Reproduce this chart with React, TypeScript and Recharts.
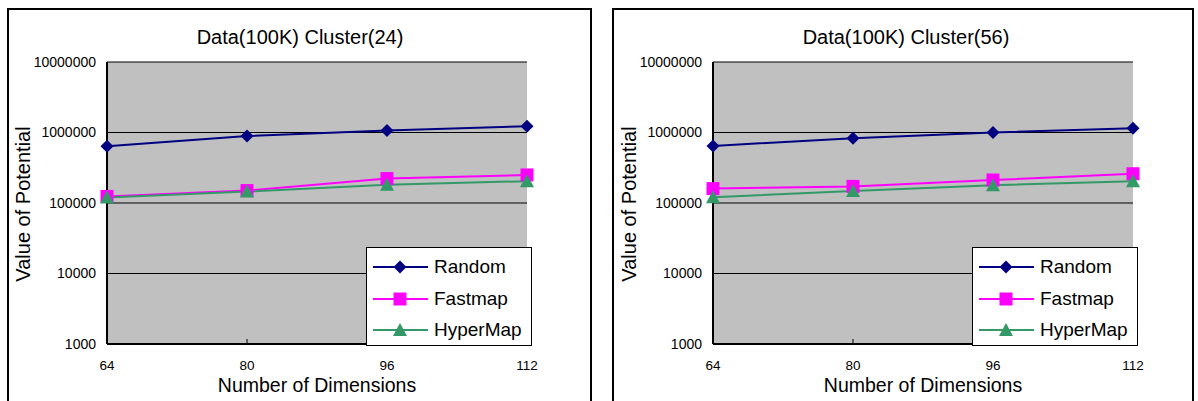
import React from 'react';
import { LineChart, Line, XAxis, YAxis, CartesianGrid, Legend } from 'recharts';

const dimensions = [64, 80, 96, 112];
const yTicks = [1000, 10000, 100000, 1000000, 10000000];

const random24 = [640000, 890000, 1070000, 1230000];
const fastmap24 = [124000, 150000, 222000, 250000];
const hypermap24 = [120000, 145000, 182000, 204000];

const random56 = [645000, 830000, 1000000, 1150000];
const fastmap56 = [160000, 172000, 212000, 260000];
const hypermap56 = [121000, 148000, 179000, 204000];

const seriesNames = ['Random', 'Fastmap', 'HyperMap'];
const seriesColors = ['#000080', '#FF00FF', '#339966'];
const seriesMarkers = ['diamond', 'square', 'triangle'];

const titles = ['Data(100K) Cluster(24)', 'Data(100K) Cluster(56)'];
const xTitle = 'Number of Dimensions';
const yTitle = 'Value of Potential';

const FONT = '"Liberation Sans", Arial, sans-serif';

function buildData(r: number[], f: number[], h: number[]) {
  return dimensions.map((d, i) => ({ dim: d, Random: r[i], Fastmap: f[i], HyperMap: h[i] }));
}

const data24 = buildData(random24, fastmap24, hypermap24);
const data56 = buildData(random56, fastmap56, hypermap56);

function Marker({ kind, cx, cy, color }: { kind: string; cx: number; cy: number; color: string }) {
  if (cx == null || cy == null || isNaN(cx) || isNaN(cy)) return null;
  if (kind === 'diamond') {
    const s = 6.5;
    return <polygon points={`${cx},${cy - s} ${cx + s},${cy} ${cx},${cy + s} ${cx - s},${cy}`} fill={color} />;
  }
  if (kind === 'square') {
    const s = 6.5;
    return <rect x={cx - s} y={cy - s} width={2 * s} height={2 * s} fill={color} />;
  }
  return <polygon points={`${cx},${cy - 7} ${cx + 7},${cy + 6} ${cx - 7},${cy + 6}`} fill={color} />;
}

const makeDot = (kind: string, color: string) => (props: any) => (
  <Marker key={`${kind}-${props.index}`} kind={kind} cx={props.cx} cy={props.cy} color={color} />
);

const legendRows = [20, 52, 83];

const renderLegend = () => (
  <div
    style={{
      position: 'relative',
      width: 166,
      height: 99,
      border: '1px solid #000',
      background: '#fff',
      boxSizing: 'border-box',
      fontFamily: FONT,
    }}
  >
    {seriesNames.map((name, i) => (
      <div
        key={name}
        style={{
          position: 'absolute',
          left: 0,
          top: legendRows[i] - 13,
          height: 24,
          display: 'flex',
          alignItems: 'center',
        }}
      >
        <svg width={62} height={24} style={{ display: 'block' }}>
          <line x1={6} x2={61} y1={12} y2={12} stroke={seriesColors[i]} strokeWidth={2} />
          <Marker kind={seriesMarkers[i]} cx={33} cy={12} color={seriesColors[i]} />
        </svg>
        <span style={{ fontSize: 19, marginLeft: 5, lineHeight: '24px', color: '#000', whiteSpace: 'nowrap' }}>
          {name}
        </span>
      </div>
    ))}
  </div>
);

function Panel({ data, title, width, right }: { data: any[]; title: string; width: number; right: number }) {
  const plotLeft = 107;
  const plotRight = width - right;
  const cx = (plotLeft + plotRight) / 2;
  return (
    <LineChart
      width={width}
      height={401}
      data={data}
      margin={{ top: 62, right, bottom: 7, left: 7 }}
      style={{ fontFamily: FONT }}
    >
      <CartesianGrid fill="#C0C0C0" fillOpacity={1} stroke="#000" strokeWidth={1} vertical={false} />
      <XAxis
        dataKey="dim"
        type="number"
        domain={[64, 112]}
        ticks={dimensions}
        height={50}
        axisLine={{ stroke: '#000', strokeWidth: 2 }}
        tickLine={{ stroke: '#000', strokeWidth: 1 }}
        tickSize={-5}
        tickMargin={21}
        tick={{ fontSize: 13.5, fill: '#000', fontFamily: FONT }}
      />
      <XAxis
        xAxisId="top"
        orientation="top"
        type="number"
        domain={[0, 1]}
        height={0}
        tick={false}
        tickLine={false}
        axisLine={{ stroke: '#808080', strokeWidth: 1.5 }}
      />
      <YAxis
        scale="log"
        type="number"
        domain={[1000, 10000000]}
        allowDataOverflow
        ticks={yTicks}
        width={100}
        axisLine={{ stroke: '#000', strokeWidth: 2 }}
        tickLine={false}
        tickSize={0}
        tickMargin={11}
        interval={0}
        tick={{ fontSize: 14, fill: '#000', fontFamily: FONT }}
      />
      <YAxis
        yAxisId="right"
        orientation="right"
        type="number"
        domain={[0, 1]}
        width={0}
        tick={false}
        tickLine={false}
        axisLine={{ stroke: '#808080', strokeWidth: 2 }}
      />
      {seriesNames.map((name, i) => (
        <Line
          key={name}
          dataKey={name}
          stroke={seriesColors[i]}
          strokeWidth={2}
          dot={makeDot(seriesMarkers[i], seriesColors[i])}
          activeDot={false}
          isAnimationActive={false}
        />
      ))}
      <Legend
        layout="vertical"
        align="center"
        verticalAlign="middle"
        wrapperStyle={{ left: 366, top: 247, width: 166, height: 99 }}
        content={renderLegend}
      />
      <text x={cx - 17} y={37} textAnchor="middle" dominantBaseline="central" fontSize={20} fill="#000" fontFamily={FONT}>
        {title}
      </text>
      <text x={cx} y={385} textAnchor="middle" dominantBaseline="central" fontSize={19.5} fill="#000" fontFamily={FONT}>
        {xTitle}
      </text>
      <text
        x={23}
        y={204}
        transform="rotate(-90 23 204)"
        textAnchor="middle"
        dominantBaseline="central"
        fontSize={20}
        fill="#000"
        fontFamily={FONT}
      >
        {yTitle}
      </text>
    </LineChart>
  );
}

export default function App() {
  return (
    <div
      style={{
        position: 'fixed',
        left: 0,
        top: 0,
        width: 1198,
        height: 401,
        background: '#fff',
        overflow: 'hidden',
        fontFamily: FONT,
      }}
    >
      <div
        style={{
          position: 'absolute',
          left: 7,
          top: 8,
          width: 585,
          height: 410,
          border: '2px solid #000',
          borderBottom: 'none',
          boxSizing: 'border-box',
        }}
      />
      <div
        style={{
          position: 'absolute',
          left: 612,
          top: 8,
          width: 582,
          height: 410,
          border: '2px solid #000',
          borderBottom: 'none',
          boxSizing: 'border-box',
        }}
      />
      <div style={{ position: 'absolute', left: 0, top: 0 }}>
        <Panel data={data24} title={titles[0]} width={600} right={73} />
      </div>
      <div style={{ position: 'absolute', left: 606, top: 0 }}>
        <Panel data={data56} title={titles[1]} width={592} right={65} />
      </div>
    </div>
  );
}
